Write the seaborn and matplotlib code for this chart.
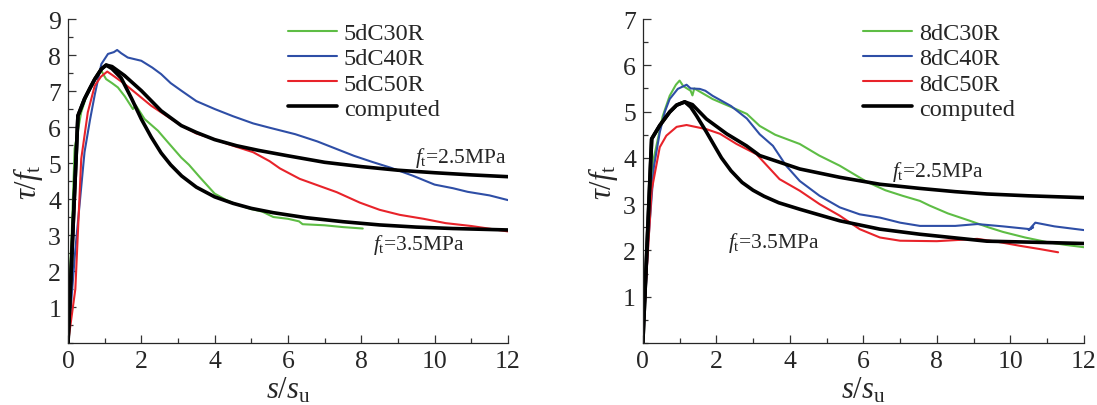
import numpy as np
import matplotlib
matplotlib.use('Agg')
import matplotlib.pyplot as plt
from matplotlib.ticker import MultipleLocator
import seaborn as sns

# ---- left panel (5d specimens) ----
g5_x = [0, 0.1, 0.18, 0.36, 0.5, 0.64, 0.78, 0.91, 0.97, 1.04, 1.2, 1.36, 1.55, 1.77, 1.85, 2.09, 2.45, 2.73, 3.09, 3.3, 3.6, 4.0, 4.3, 4.6, 5.0, 5.3, 5.6, 6.0, 6.3, 6.4, 7.0, 7.5, 8.04]
g5_y = [0.8, 3.0, 5.4, 6.41, 6.85, 7.15, 7.4, 7.57, 7.45, 7.33, 7.22, 7.1, 6.85, 6.5, 6.6, 6.22, 5.9, 5.57, 5.15, 4.95, 4.6, 4.15, 3.98, 3.85, 3.72, 3.65, 3.5, 3.45, 3.38, 3.3, 3.27, 3.22, 3.18]
b5_x = [0, 0.2, 0.45, 0.6, 0.73, 0.91, 1.09, 1.25, 1.34, 1.45, 1.63, 2.0, 2.3, 2.54, 2.8, 3.09, 3.5, 4.0, 4.5, 5.05, 5.5, 6.2, 6.8, 7.3, 7.8, 8.3, 8.8, 9.4, 10.0, 10.5, 10.9, 11.5, 12.0]
b5_y = [0, 2.6, 5.3, 6.2, 6.9, 7.75, 8.03, 8.08, 8.14, 8.05, 7.93, 7.84, 7.65, 7.47, 7.22, 7.01, 6.72, 6.5, 6.3, 6.1, 5.98, 5.8, 5.6, 5.4, 5.2, 5.03, 4.87, 4.65, 4.4, 4.3, 4.2, 4.1, 3.97]
r5_x = [0, 0.2, 0.36, 0.45, 0.54, 0.73, 0.9, 1.07, 1.2, 1.54, 1.9, 2.27, 2.7, 3.09, 3.5, 3.96, 4.5, 5.05, 5.5, 5.78, 6.32, 7.33, 7.96, 8.5, 9.05, 9.7, 10.3, 11.0, 12.0]
r5_y = [0, 1.5, 5.11, 5.76, 6.41, 7.15, 7.4, 7.54, 7.45, 7.2, 6.9, 6.59, 6.3, 6.04, 5.82, 5.67, 5.48, 5.3, 5.05, 4.85, 4.56, 4.19, 3.9, 3.7, 3.56, 3.45, 3.33, 3.25, 3.1]
c5_rise_x = [0, 0.27, 0.45, 0.6, 0.73, 0.91, 1.04]
c5_rise_y = [0, 6.31, 6.78, 7.08, 7.33, 7.61, 7.72]
c5_slow_x = [1.2, 1.54, 2.0, 2.54, 3.09, 3.5, 4.0, 4.6, 5.2, 6.0, 7.0, 8.0, 9.0, 10.0, 11.0, 12.0]
c5_slow_y = [7.68, 7.43, 7.01, 6.45, 6.04, 5.85, 5.65, 5.48, 5.35, 5.2, 5.02, 4.9, 4.8, 4.73, 4.67, 4.62]
c5_fast_x = [1.2, 1.45, 1.73, 2.0, 2.27, 2.54, 2.8, 3.1, 3.5, 4.0, 4.5, 5.0, 5.6, 6.5, 7.5, 8.5, 9.5, 10.5, 12.0]
c5_fast_y = [7.62, 7.36, 6.8, 6.22, 5.72, 5.28, 4.95, 4.64, 4.33, 4.06, 3.88, 3.74, 3.62, 3.48, 3.37, 3.28, 3.22, 3.18, 3.14]

# ---- right panel (8d specimens) ----
g8_x = [0, 0.15, 0.3, 0.54, 0.73, 0.9, 1.0, 1.1, 1.2, 1.3, 1.35, 1.4, 1.9, 2.4, 2.83, 3.18, 3.6, 4.27, 4.8, 5.36, 6.1, 6.6, 7.07, 7.54, 7.8, 8.3, 8.9, 9.4, 9.8, 10.4, 11.0, 11.5, 12.0]
g8_y = [0, 2.5, 4.0, 4.9, 5.34, 5.58, 5.67, 5.55, 5.5, 5.45, 5.35, 5.5, 5.27, 5.1, 4.95, 4.69, 4.5, 4.3, 4.05, 3.83, 3.48, 3.3, 3.18, 3.07, 2.97, 2.8, 2.64, 2.5, 2.4, 2.28, 2.18, 2.12, 2.07]
b8_x = [0, 0.15, 0.3, 0.46, 0.6, 0.73, 0.95, 1.19, 1.3, 1.55, 1.7, 1.9, 2.4, 2.83, 3.18, 3.54, 3.9, 4.27, 4.81, 5.36, 5.9, 6.45, 7.0, 7.54, 8.5, 9.1, 9.8, 10.53, 10.62, 10.5, 10.68, 11.2, 12.0]
b8_y = [0, 2.2, 3.8, 4.55, 5.0, 5.27, 5.49, 5.58, 5.5, 5.49, 5.45, 5.34, 5.12, 4.85, 4.51, 4.26, 3.83, 3.5, 3.18, 2.93, 2.78, 2.71, 2.6, 2.53, 2.53, 2.57, 2.52, 2.46, 2.5, 2.44, 2.6, 2.52, 2.44]
r8_x = [0, 0.1, 0.24, 0.46, 0.64, 0.92, 1.19, 1.73, 2.1, 2.55, 3.09, 3.72, 4.27, 4.81, 5.36, 5.9, 6.45, 7.0, 8.0, 9.1, 9.7, 10.26, 10.8, 11.3]
r8_y = [0, 1.5, 3.3, 4.23, 4.48, 4.67, 4.71, 4.62, 4.52, 4.3, 4.08, 3.54, 3.29, 3.0, 2.75, 2.46, 2.28, 2.21, 2.2, 2.25, 2.18, 2.1, 2.03, 1.96]
c8_rise_x = [0, 0.24, 0.46, 0.73, 0.92, 1.14]
c8_rise_y = [0, 4.41, 4.7, 4.99, 5.14, 5.21]
c8_slow_x = [1.35, 1.73, 2.28, 2.82, 3.18, 4.27, 5.36, 6.45, 7.54, 8.5, 9.36, 10.5, 12.0]
c8_slow_y = [5.15, 4.84, 4.52, 4.26, 4.05, 3.76, 3.58, 3.43, 3.34, 3.27, 3.22, 3.18, 3.14]
c8_fast_x = [1.3, 1.46, 1.73, 2.0, 2.14, 2.4, 2.7, 3.0, 3.3, 3.7, 4.27, 5.36, 6.45, 7.54, 9.36, 10.5, 12.0]
c8_fast_y = [5.1, 4.91, 4.56, 4.19, 4.0, 3.72, 3.47, 3.3, 3.17, 3.03, 2.89, 2.64, 2.46, 2.35, 2.2, 2.18, 2.15]

xticks = [0, 2, 4, 6, 8, 10, 12]
green, blue, red = '#5EBD45', '#2E4EA6', '#E8232A'

sns.set_style('ticks')
plt.rcParams['font.family'] = ['Liberation Serif', 'DejaVu Serif']
plt.rcParams['font.serif'] = ['Liberation Serif', 'DejaVu Serif']
plt.rcParams['mathtext.fontset'] = 'custom'
plt.rcParams['mathtext.rm'] = 'Liberation Serif'
plt.rcParams['mathtext.it'] = 'Liberation Serif:italic'

fig = plt.figure(figsize=(10.97, 4.06), dpi=100)
ax1 = fig.add_axes([0.062, 0.1527, 0.401, 0.798])
ax2 = fig.add_axes([0.586, 0.1527, 0.402, 0.798])


def panel(ax, tests, rise, branches, ymax, notes):
    for (x, y, c, lab) in tests:
        sns.lineplot(x=x, y=y, color=c, lw=1.5, sort=False, estimator=None, ax=ax, label=lab)
    for i, (bx, by) in enumerate(branches):
        sns.lineplot(x=np.concatenate([rise[0], bx]), y=np.concatenate([rise[1], by]),
                     color='black', lw=2.6, sort=False, estimator=None, ax=ax,
                     label='computed' if i == 0 else None)
    ax.set_xlim(0, 12)
    ax.set_ylim(0, ymax)
    ax.set_xticks(xticks)
    ax.set_yticks(range(1, ymax + 1))
    ax.xaxis.set_minor_locator(MultipleLocator(1))
    ax.yaxis.set_minor_locator(MultipleLocator(0.5))
    ax.tick_params(which='both', direction='in', labelsize=18.5, width=0.9, color='#333333')
    ax.tick_params(which='major', length=6, pad=5)
    ax.tick_params(which='minor', length=3.5)
    sns.despine(ax=ax)
    for s in ['left', 'bottom']:
        ax.spines[s].set_linewidth(0.9)
    ax.set_xlabel(r'$s/s_{\rm u}$', fontsize=22, labelpad=2)
    ax.set_ylabel(r'$\tau/f_{\rm t}$', fontsize=22, labelpad=2)
    for (tx, ty, t) in notes:
        ax.text(tx, ty, t, fontsize=15.5, ha='left', va='baseline')
    ax.legend(loc='upper left', bbox_to_anchor=(0.5, 0.99), frameon=False, fontsize=17.5,
              handlelength=2.0, handletextpad=0.3, labelspacing=0.13, borderpad=0, borderaxespad=0)


panel(ax1,
      [(g5_x, g5_y, green, '5dC30R'), (b5_x, b5_y, blue, '5dC40R'), (r5_x, r5_y, red, '5dC50R')],
      (c5_rise_x, c5_rise_y), [(c5_slow_x, c5_slow_y), (c5_fast_x, c5_fast_y)], 9,
      [(9.46, 5.03, r'$f_{\rm t}$=2.5MPa'), (8.32, 2.61, r'$f_{\rm t}$=3.5MPa')])
panel(ax2,
      [(g8_x, g8_y, green, '8dC30R'), (b8_x, b8_y, blue, '8dC40R'), (r8_x, r8_y, red, '8dC50R')],
      (c8_rise_x, c8_rise_y), [(c8_slow_x, c8_slow_y), (c8_fast_x, c8_fast_y)], 7,
      [(6.78, 3.61, r'$f_{\rm t}$=2.5MPa'), (2.31, 2.07, r'$f_{\rm t}$=3.5MPa')])

fig.savefig('out.png', dpi=100)
